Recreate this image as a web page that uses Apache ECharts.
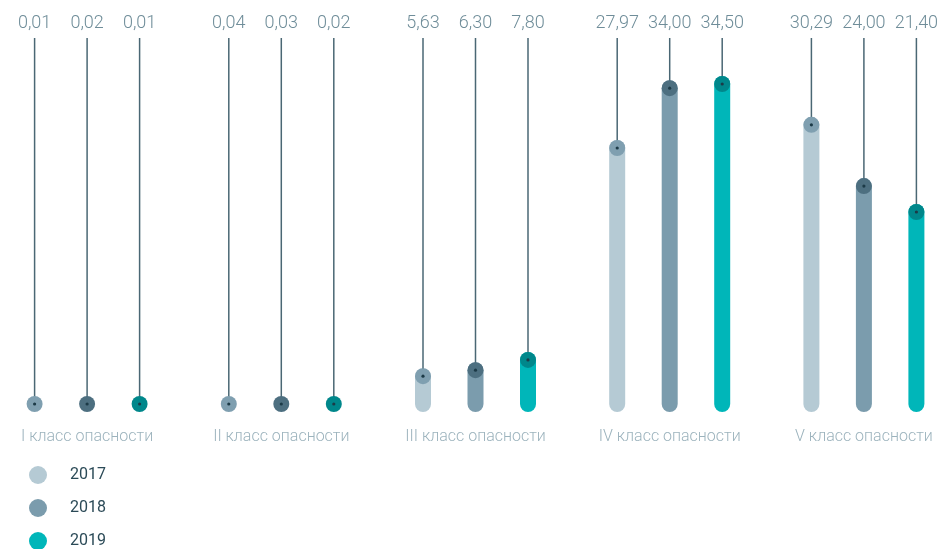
<!DOCTYPE html>
<html>
<head>
<meta charset="utf-8">
<script src="https://cdn.jsdelivr.net/npm/echarts@6/dist/echarts.min.js"></script>
<style>
html,body{margin:0;padding:0;background:#fff;}
#chart{width:940px;height:549px;}
</style>
</head>
<body>
<div id="chart"></div>
<script>
// Categories
var categories = ['I класс опасности', 'II класс опасности', 'III класс опасности', 'IV класс опасности', 'V класс опасности'];
var years = ['2017', '2018', '2019'];
// Value labels (as printed)
var labels2017 = ['0,01', '0,04', '5,63', '27,97', '30,29'];
var labels2018 = ['0,02', '0,03', '6,30', '34,00', '24,00'];
var labels2019 = ['0,01', '0,02', '7,80', '34,50', '21,40'];
// Bar heights as drawn in the picture (same units as the labels)
var heights2017 = [0, 0, 3.0, 27.6, 30.1];
var heights2018 = [0, 0, 3.65, 34.05, 23.5];
var heights2019 = [0, 0, 4.75, 34.5, 20.7];

var barColors = ['#b5cad4', '#7b9cad', '#00b6b9'];
var markerColors = ['#7f9fb0', '#4d6f80', '#00878b'];
var offsets = [-52.5, 0, 52.5];
var allLabels = [labels2017, labels2018, labels2019];
var allHeights = [heights2017, heights2018, heights2019];

function makeRender(si) {
  return function (params, api) {
    var idx = api.value(0);
    var h = api.value(1);
    var base = api.coord([idx, 0]);
    var top = api.coord([idx, h]);
    var maxPt = api.coord([idx, 40]);
    var x = base[0] + offsets[si];
    var label = allLabels[si][params.dataIndex];
    return {
      type: 'group',
      children: [
        {
          type: 'line',
          shape: { x1: x, y1: base[1], x2: x, y2: top[1] },
          style: { stroke: barColors[si], lineWidth: 16, lineCap: 'round' }
        },
        {
          type: 'line',
          shape: { x1: x, y1: maxPt[1] + 5, x2: x, y2: top[1] },
          style: { stroke: '#4a6774', lineWidth: 1.5 }
        },
        {
          type: 'circle',
          shape: { cx: x, cy: top[1], r: 8 },
          style: { fill: markerColors[si] }
        },
        {
          type: 'circle',
          shape: { cx: x, cy: top[1], r: 1.6 },
          style: { fill: '#1c3a47' }
        },
        {
          type: 'text',
          style: {
            text: label, x: x, y: maxPt[1] - 10,
            align: 'center', verticalAlign: 'middle',
            fill: '#6f8d99', fontSize: 18, fontWeight: 300, fontFamily: 'Roboto'
          }
        }
      ]
    };
  };
}

var series = years.map(function (y, si) {
  return {
    name: y,
    type: 'custom',
    renderItem: makeRender(si),
    itemStyle: { color: barColors[si] },
    encode: { x: 0, y: 1 },
    clip: false,
    data: allHeights[si].map(function (v, i) { return [i, v]; })
  };
});

var chart = echarts.init(document.getElementById('chart'));
chart.setOption({
  animation: false,
  grid: { left: -10, width: 971, top: 33, bottom: 145, containLabel: false, outerBoundsMode: 'none' },
  legend: {
    data: years,
    orient: 'vertical',
    left: 29, top: 466,
    padding: 0,
    height: 90,
    icon: 'circle',
    itemWidth: 18, itemHeight: 18, itemGap: 15,
    textStyle: { color: '#2b4a57', fontSize: 16, fontFamily: 'Roboto', fontWeight: 400, padding: [0, 0, 0, 18] }
  },
  xAxis: {
    type: 'category',
    data: categories,
    axisLine: { show: false },
    axisTick: { show: false },
    axisLabel: { color: '#9cb3bd', fontSize: 16, fontFamily: 'Roboto', fontWeight: 300, margin: 25, hideOverlap: false }
  },
  yAxis: { type: 'value', min: 0, max: 40, show: false },
  series: series
});
</script>
</body>
</html>
